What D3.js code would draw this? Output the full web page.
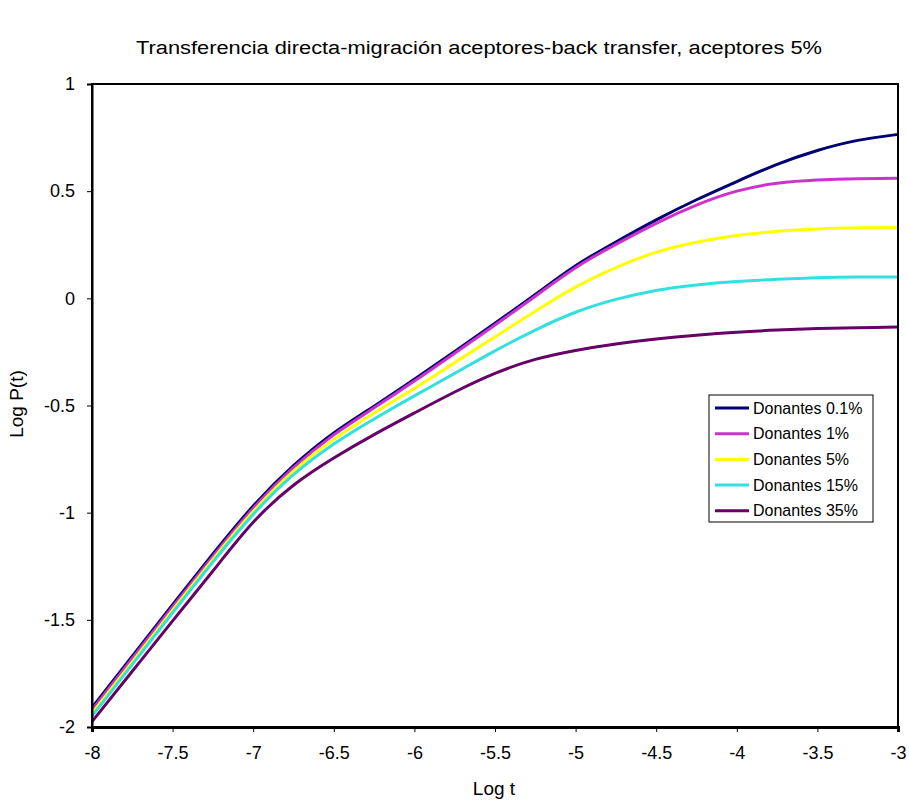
<!DOCTYPE html>
<html><head><meta charset="utf-8">
<script src="https://cdn.jsdelivr.net/npm/d3@7"></script>
<style>body{margin:0;background:#fff}svg{display:block}text{font-family:"Liberation Sans",Arial,sans-serif}</style>
</head><body>
<svg id="c" width="909" height="803"></svg>
<script>
const logT = [-8,-7.75,-7.5,-7.25,-7,-6.75,-6.5,-6.25,-6,-5.75,-5.5,-5.25,-5,-4.75,-4.5,-4.25,-4,-3.75,-3.5,-3.25,-3];
const don01 = [-1.91,-1.669,-1.429,-1.193,-0.969,-0.781,-0.628,-0.503,-0.378,-0.248,-0.116,0.018,0.152,0.263,0.366,0.46,0.545,0.625,0.69,0.737,0.765];
const don1  = [-1.921,-1.68,-1.44,-1.204,-0.98,-0.79,-0.637,-0.511,-0.386,-0.256,-0.124,0.01,0.143,0.252,0.35,0.435,0.5,0.537,0.552,0.558,0.56];
const don5  = [-1.937,-1.696,-1.455,-1.218,-0.995,-0.806,-0.658,-0.535,-0.42,-0.3,-0.18,-0.06,0.052,0.143,0.215,0.262,0.293,0.313,0.324,0.329,0.331];
const don15 = [-1.949,-1.708,-1.467,-1.23,-1.008,-0.823,-0.68,-0.563,-0.455,-0.35,-0.245,-0.148,-0.065,-0.005,0.037,0.062,0.078,0.089,0.096,0.099,0.10];
const don35 = [-1.975,-1.74,-1.505,-1.272,-1.045,-0.872,-0.745,-0.636,-0.535,-0.437,-0.35,-0.285,-0.243,-0.213,-0.19,-0.172,-0.158,-0.148,-0.141,-0.137,-0.134];
const seriesNames = ["Donantes 0.1%","Donantes 1%","Donantes 5%","Donantes 15%","Donantes 35%"];
const seriesColors = ["#000070","#cc33cc","#ffff00","#33e0e0","#660066"];
const xTicks = [-8,-7.5,-7,-6.5,-6,-5.5,-5,-4.5,-4,-3.5,-3];
const yTicks = [1,0.5,0,-0.5,-1,-1.5,-2];
const allSeries = [don01,don1,don5,don15,don35];

const svg = d3.select("#c");
const L=92,R=898,T=84,B=727;
const x = d3.scaleLinear().domain([-8,-3]).range([L,R]);
const y = d3.scaleLinear().domain([-2,1]).range([B,T]);

svg.append("text").attr("x",479).attr("y",54).attr("text-anchor","middle")
  .attr("font-size",18).attr("textLength",686).attr("lengthAdjust","spacingAndGlyphs")
  .text("Transferencia directa-migración aceptores-back transfer, aceptores 5%");

const line = d3.line().x((d,i)=>x(logT[i])).y(d=>y(d)).curve(d3.curveNatural);
const g = svg.append("g");
allSeries.forEach((s,k)=>{
  g.append("path").attr("d",line(s)).attr("fill","none")
   .attr("stroke",seriesColors[k]).attr("stroke-width",3);
});

svg.append("rect").attr("x",L).attr("y",T).attr("width",R-L).attr("height",B-T)
  .attr("fill","none").attr("stroke","#000").attr("stroke-width",2);

const xa = svg.append("g").attr("transform",`translate(0,${B})`)
  .call(d3.axisBottom(x).tickValues(xTicks).tickSize(5).tickPadding(14).tickFormat(d=>d));
xa.select(".domain").attr("stroke-width",3);
xa.selectAll("text").attr("font-size",18).attr("font-family","Liberation Sans, Arial, sans-serif").attr("fill","#000");
const ya = svg.append("g").attr("transform",`translate(${L},0)`)
  .call(d3.axisLeft(y).tickValues(yTicks).tickSize(5).tickPadding(12).tickFormat(d=>d));
ya.select(".domain").attr("stroke-width",2);
ya.selectAll("text").attr("font-size",18).attr("font-family","Liberation Sans, Arial, sans-serif").attr("fill","#000");

svg.append("text").attr("x",494).attr("y",795).attr("text-anchor","middle").attr("font-size",19).text("Log t");
svg.append("text").attr("transform","translate(23,404) rotate(-90)").attr("text-anchor","middle").attr("font-size",19).text("Log P(t)");

const lg = svg.append("g");
lg.append("rect").attr("x",709).attr("y",395).attr("width",164).attr("height",127)
  .attr("fill","#fff").attr("stroke","#000").attr("stroke-width",1);
seriesNames.forEach((n,i)=>{
  const yy = 408 + i*25.7;
  lg.append("line").attr("x1",715).attr("x2",749).attr("y1",yy).attr("y2",yy)
    .attr("stroke",seriesColors[i]).attr("stroke-width",3);
  lg.append("text").attr("x",753).attr("y",yy+5.5).attr("font-size",16).text(n);
});
</script>
</body></html>
